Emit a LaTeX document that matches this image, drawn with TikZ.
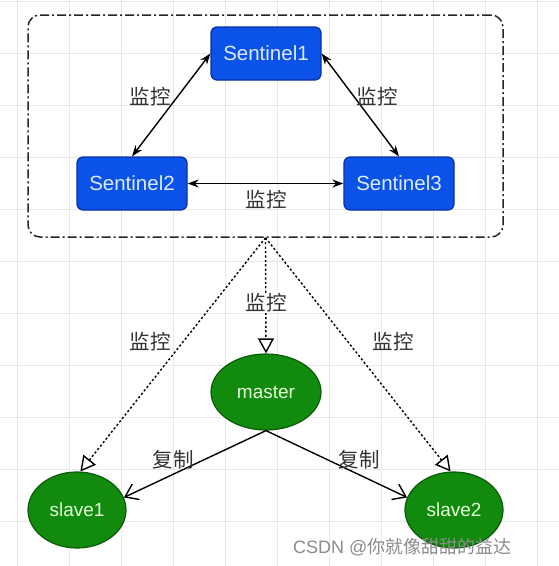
\documentclass[tikz,border=0pt]{standalone}
\usepackage{fontspec}
\setmainfont{Liberation Sans}
\newfontfamily\cjk{Noto Sans CJK SC}
\usetikzlibrary{arrows.meta,shapes.geometric}
\definecolor{sfill}{HTML}{0A52E8}
\definecolor{sdraw}{HTML}{0A2FA8}
\definecolor{stext}{HTML}{DCEAFF}
\definecolor{gfill}{HTML}{118A0E}
\definecolor{gdraw}{HTML}{0B5A08}
\definecolor{gtext}{HTML}{E2FFD8}
\definecolor{gridc}{HTML}{E8E8E8}
\begin{document}
\begin{tikzpicture}[x=1pt,y=-1pt,
  sentbox/.style={draw=sdraw,fill=sfill,line width=1.2pt,rounded corners=6pt,
    minimum width=110pt,minimum height=53pt,inner sep=0pt,text=stext,
    font=\fontsize{20.5}{24}\selectfont},
  redis/.style={draw=gdraw,fill=gfill,line width=1.2pt,ellipse,inner sep=0pt,text=gtext,
    font=\fontsize{19}{22}\selectfont},
  lbl/.style={font=\cjk\fontsize{20.5}{24}\selectfont,text=black!80,inner sep=1pt},
  bidir/.style={line width=1.4pt,{Stealth[length=11pt,width=8pt]}-{Stealth[length=11pt,width=8pt]}},
  watch/.style={line width=1.4pt,dash pattern=on 2.2pt off 2.2pt,-{Triangle[open,length=15pt,width=16pt,line width=1.4pt]}},
  copyarr/.style={line width=1.4pt,-{Straight Barb[length=12pt,width=17pt]}},
  grpbox/.style={draw=black!85,line width=1.5pt,rounded corners=12pt,
    dash pattern=on 9pt off 3pt on 2pt off 3pt,minimum width=475pt,minimum height=222pt,inner sep=0pt}
]
\useasboundingbox (0,0) rectangle (559,566);
\fill[white] (0,0) rectangle (559,566);
% grid
\foreach \k in {0,...,10} {
  \draw[gridc,line width=0.9pt] (17+52*\k,0) -- (17+52*\k,566);
  \draw[gridc,line width=0.9pt] (0,1+52*\k) -- (559,1+52*\k);
}
% container
\node[grpbox] (grp) at (265.5,126) {};
% sentinels
\node[sentbox] (s1) at (266,53.5) {Sentinel1};
\node[sentbox] (s2) at (132,183.5) {Sentinel2};
\node[sentbox] (s3) at (399,183.5) {Sentinel3};
\draw[bidir] (s1.west) -- (s2.north);
\draw[bidir] (s1.east) -- (s3.north);
\draw[bidir] (s2.east) -- (s3.west);
\node[lbl] (l1) at (150,97) {监控};
\node[lbl] (l2) at (377,97) {监控};
\node[lbl] (l3) at (266,200) {监控};
% redis nodes
\node[redis,minimum width=110pt,minimum height=76pt] (m) at (266,392) {master};
\node[redis,minimum width=98pt,minimum height=76pt] (sl1) at (77,510) {slave1};
\node[redis,minimum width=98pt,minimum height=76pt] (sl2) at (454,510) {slave2};
% monitoring
\draw[watch] (grp.south) -- (m.north);
\draw[watch] (grp.south) -- (sl1.85);
\draw[watch] (grp.south) -- (sl2.95);
\node[lbl,fill=white] (l4) at (266,303) {监控};
\node[lbl] (l5) at (150,342) {监控};
\node[lbl] (l6) at (393,342) {监控};
% replication
\draw[copyarr] (m.south) -- (sl1.15);
\draw[copyarr] (m.south) -- (sl2.165);
\node[lbl] (c1) at (173,460) {复制};
\node[lbl] (c2) at (359,460) {复制};
% watermark
\node[anchor=west,inner sep=0pt,text=black!45,font=\fontsize{18}{21}\selectfont] (wm) at (293,547) {CSDN @{\cjk 你就像甜甜的益达}};
\end{tikzpicture}
\end{document}
